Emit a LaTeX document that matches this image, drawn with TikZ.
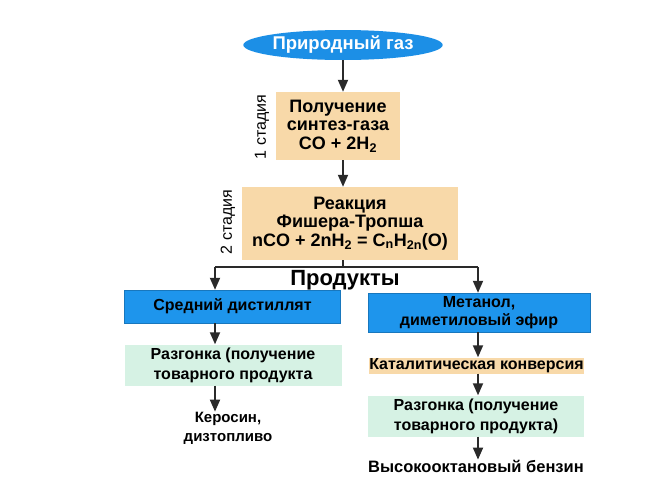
\documentclass[tikz,border=0pt]{standalone}
\usepackage{fontspec}
\setmainfont{Liberation Sans}
\usetikzlibrary{arrows.meta,shapes.geometric}
\definecolor{gasblue}{HTML}{1C8FE6}
\definecolor{boxblue}{HTML}{1E95EC}
\definecolor{peach}{HTML}{F8D9A9}
\definecolor{mint}{HTML}{D6F2E4}
\definecolor{arrowc}{HTML}{2A2A2A}
\tikzset{
  every node/.style={font=\bfseries\fontsize{16}{20}\selectfont, align=center, inner sep=0pt},
  bigtxt/.style={font=\bfseries\fontsize{18}{18.5}\selectfont},
  gasnode/.style={ellipse, fill=gasblue, text=white, minimum width=177pt, minimum height=30pt, font=\bfseries\fontsize{18.5}{20}\selectfont},
  stagebox/.style={rectangle, fill=peach},
  bluebox/.style={rectangle, fill=boxblue, draw=boxblue!80!black, line width=0.4pt},
  mintbox/.style={rectangle, fill=mint},
  stagelab/.style={rotate=90, font=\fontsize{16}{18}\selectfont},
  arr/.style={draw=arrowc, line width=1.8pt, -{Triangle[width=10pt,length=12pt]}},
  ln/.style={draw=arrowc, line width=1.8pt}
}
\begin{document}
\begin{tikzpicture}[x=1pt,y=-1pt]
\useasboundingbox (0,0) rectangle (648,483);
\node[gasnode] (gas) at (343,45) {Природный газ};
\node[stagebox, bigtxt, minimum width=124pt, minimum height=68pt] (s1) at (338,126) {Получение\\синтез-газа\\CO + 2H\textsubscript{2}};
\node[stagebox, bigtxt, minimum width=216pt, minimum height=73pt] (s2) at (350,223.5) {Реакция\\Фишера-Тропша\\nCO + 2nH\textsubscript{2} = C\textsubscript{n}H\textsubscript{2n}(O)};
\node[stagelab] (st1) at (262,127) {1 стадия};
\node[stagelab] (st2) at (228,222) {2 стадия};
\coordinate (g1) at (343,60);
\coordinate (s1t) at (343,92);
\coordinate (s1b) at (343,160);
\coordinate (s2t) at (343,187);
\coordinate (s2b) at (343,260);
\coordinate (br) at (343,267);
\coordinate (brl) at (215,267);
\coordinate (brr) at (478,267);
\node[font=\bfseries\fontsize{22}{24}\selectfont] (prod) at (345,280) {Продукты};
\node[bluebox, minimum width=216pt, minimum height=33pt] (l1) at (232.5,306.5) {Средний дистиллят};
\node[mintbox, minimum width=217pt, minimum height=41pt] (l2) at (233,365) {Разгонка (получение\\товарного продукта};
\node[font=\bfseries\fontsize{15}{19}\selectfont] (l3) at (228,428) {Керосин,\\дизтопливо};
\node[bluebox, minimum width=222pt, minimum height=39pt, font=\bfseries\fontsize{16}{18}\selectfont] (r1) at (479,312.5) {Метанол,\\диметиловый эфир};
\node[stagebox, minimum width=213pt, minimum height=16pt] (r2) at (476.5,365.5) {Каталитическая конверсия};
\node[mintbox, minimum width=216pt, minimum height=41pt] (r3) at (476,416) {Разгонка (получение\\товарного продукта)};
\node[font=\bfseries\fontsize{16.5}{20}\selectfont] (r4) at (476,466) {Высокооктановый бензин};
\draw[arr] (gas.south -| g1) -- (s1.north -| s1t);
\draw[arr] (s1.south -| s1b) -- (s2.north -| s2t);
\draw[ln] (s2.south -| s2b) -- (br);
\draw[ln] (brl) -- (brr);
\draw[arr] (brl) -- (l1.north -| brl);
\draw[arr] (brr) -- (r1.north -| brr);
\draw[arr] (l1.south -| brl) -- (l2.north -| brl);
\draw[arr] (l2.south -| brl) -- (l3.north -| brl);
\draw[arr] (r1.south -| brr) -- (r2.north -| brr);
\draw[arr] (r2.south -| brr) -- (r3.north -| brr);
\draw[arr] (r3.south -| brr) -- (r4.north -| brr);
\end{tikzpicture}
\end{document}
